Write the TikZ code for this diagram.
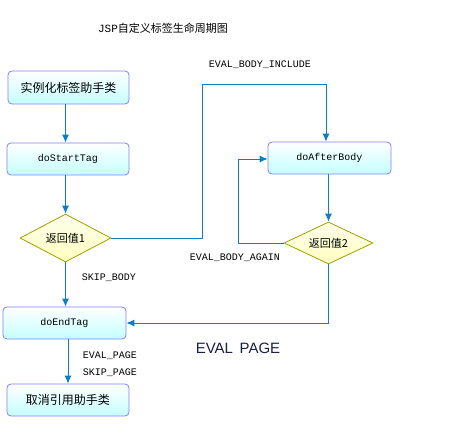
\documentclass[tikz,border=0pt]{standalone}
\usepackage{fontspec}
\setmainfont{Liberation Serif}
\setmonofont{Liberation Mono}
\setsansfont{Liberation Sans}
\newfontfamily\cjk{Noto Sans CJK SC}
\usetikzlibrary{shapes.geometric,arrows.meta}
\definecolor{boxline}{HTML}{8080FF}
\definecolor{boxfill}{HTML}{C4FFFF}
\definecolor{arrowc}{HTML}{0A80C0}
\definecolor{dline}{HTML}{A0A000}
\definecolor{dfill}{HTML}{FFFFC0}
\definecolor{bigtext}{HTML}{1A2040}
\tikzset{
  stepbox/.style={draw=boxline, line width=0.8pt, rounded corners=4pt, top color=white, bottom color=boxfill, minimum width=#1, minimum height=32pt, inner sep=0pt},
  stepbox/.default=122pt,
  choice/.style={diamond, draw=dline, line width=0.8pt, top color=dfill!30, bottom color=dfill, aspect=2, inner sep=0pt, font=\cjk\fontsize{11}{13}\selectfont},
  arr/.style={draw=arrowc, line width=0.9pt, -{Latex[length=8pt,width=7pt]}},
  lin/.style={draw=arrowc, line width=0.9pt},
  lbl/.style={font=\ttfamily\fontsize{10}{12}\selectfont, inner sep=0pt},
  cn/.style={font=\cjk\fontsize{12}{14}\selectfont},
  en/.style={font=\ttfamily\fontsize{10}{12}\selectfont}
}
\begin{document}
\begin{tikzpicture}[x=1pt,y=-1pt]
\useasboundingbox (0,0) rectangle (459,444);
\node[inner sep=0pt] (title) at (163,28) {\fontsize{11}{13}\selectfont{\ttfamily JSP}\cjk 自定义标签生命周期图};
\node[stepbox=121pt, minimum height=33pt, cn] (box1) at (68.5,87.5) {实例化标签助手类};
\node[stepbox, en] (box2) at (68,159) {doStartTag};
\node[choice, minimum width=91pt, minimum height=48pt] (d1) at (65.5,238) {返回值1};
\node[stepbox=123pt, en] (box3) at (64.5,323) {doEndTag};
\node[stepbox, cn] (box4) at (68,400) {取消引用助手类};
\node[stepbox=123pt, en] (box5) at (329.5,158) {doAfterBody};
\node[choice, minimum width=89pt, minimum height=42pt] (d2) at (328.5,243) {返回值2};

\node[lbl] (lInc) at (260,65) {EVAL\_BODY\_INCLUDE};
\node[lbl] (lSkipB) at (109,278) {SKIP\_BODY};
\node[lbl] (lAgain) at (235,258) {EVAL\_BODY\_AGAIN};
\node[lbl] (lEvalP) at (110,356) {EVAL\_PAGE};
\node[lbl] (lSkipP) at (110,373) {SKIP\_PAGE};
\node[inner sep=0pt, text=bigtext, font=\sffamily\fontsize{15}{18}\selectfont] (big) at (238,348) {EVAL\, PAGE};

\coordinate (c1) at (202,84);
\coordinate (c2) at (326,84);
\coordinate (c3) at (238,159);

\draw[arr] (box1.south -| d1.north) -- (box2.north -| d1.north);
\draw[arr] (box2.south -| d1.north) -- (d1.north);
\draw[arr] (d1.south) -- (box3.north -| d1.south);
\draw[arr] (box3.south -| box4.north) -- (box4.north);
\draw[arr] (d1.east) -| (c1) -- (c2) -- (c2 |- box5.north);
\draw[arr] (box5.south -| d2.north) -- (d2.north);
\draw[arr] (d2.west) -| (c3) -- (c3 -| box5.west);
\draw[arr] (d2.south) |- (box3.east);
\end{tikzpicture}
\end{document}
